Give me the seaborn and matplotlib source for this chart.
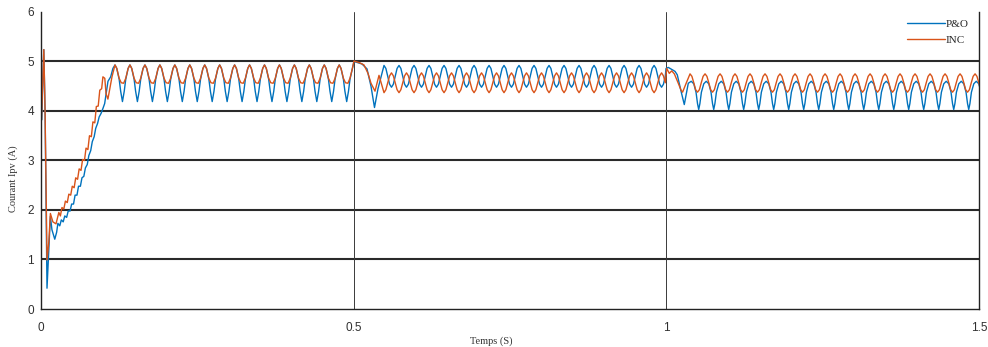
import numpy as np
import pandas as pd
import matplotlib
matplotlib.use("Agg")
import matplotlib.pyplot as plt
import seaborn as sns

# ---------------- data ----------------
# start-up transient keypoints (time in s, current in A)
po_start_t = [0.0000, 0.0005, 0.0012, 0.0045, 0.0065, 0.0096, 0.0125, 0.0150, 0.0175,
              0.0220, 0.0250, 0.0270, 0.0300, 0.0325, 0.0355, 0.0380, 0.0410, 0.0435,
              0.0465, 0.0490, 0.0520, 0.0545, 0.0575, 0.0600, 0.0630, 0.0655, 0.0685,
              0.0710, 0.0740, 0.0765, 0.0795, 0.0820, 0.0850, 0.0875, 0.0905, 0.0930,
              0.0960, 0.0990, 0.1018, 0.1071, 0.1114, 0.1150]
po_start_v = [1.90, 5.30, 3.82, 5.24, 4.00, 0.42, 1.20, 1.87, 1.60,
              1.41, 1.55, 1.73, 1.68, 1.80, 1.76, 1.88, 1.85, 1.98,
              1.98, 2.12, 2.12, 2.30, 2.30, 2.48, 2.48, 2.65, 2.68,
              2.85, 2.92, 3.10, 3.20, 3.38, 3.48, 3.65, 3.75, 3.88,
              3.95, 4.05, 4.15, 4.60, 4.69, 4.86]

inc_start_t = [0.0000, 0.0008, 0.0045, 0.0065, 0.0096, 0.0125, 0.0150, 0.0190, 0.0240,
               0.0285, 0.0310, 0.0335, 0.0365, 0.0390, 0.0420, 0.0445, 0.0475, 0.0500,
               0.0530, 0.0555, 0.0585, 0.0610, 0.0640, 0.0665, 0.0695, 0.0720, 0.0750,
               0.0775, 0.0805, 0.0830, 0.0860, 0.0885, 0.0915, 0.0940, 0.0970, 0.0990,
               0.1020, 0.1040, 0.1070, 0.1100, 0.1135]
inc_start_v = [5.30, 3.82, 5.24, 4.00, 0.99, 1.35, 1.93, 1.76, 1.72,
               1.95, 1.88, 2.05, 2.02, 2.18, 2.15, 2.32, 2.30, 2.48,
               2.45, 2.65, 2.62, 2.83, 2.80, 3.02, 3.00, 3.25, 3.22,
               3.50, 3.48, 3.78, 3.76, 4.09, 4.10, 4.42, 4.45, 4.69,
               4.66, 4.35, 4.24, 4.45, 4.69]

# reference times of each oscillation cycle (s)
seg1_cycles = [0.1183, 0.1422, 0.1662, 0.1901, 0.2140, 0.2379, 0.2618, 0.2857,
               0.3096, 0.3335, 0.3574, 0.3813, 0.4052, 0.4291, 0.4530, 0.4769]
seg2_cycles = [0.5485, 0.5725, 0.5965, 0.6205, 0.6445, 0.6685, 0.6925, 0.7165,
               0.7404, 0.7644, 0.7884, 0.8124, 0.8364, 0.8604, 0.8844, 0.9084,
               0.9324, 0.9564, 0.9804]
seg3_cycles = [1.0379, 1.0619, 1.0859, 1.1098, 1.1338, 1.1578, 1.1818, 1.2058,
               1.2298, 1.2538, 1.2778, 1.3018, 1.3258, 1.3498, 1.3737, 1.3977,
               1.4217, 1.4457, 1.4697, 1.4937]
period = 0.0239

# one-cycle shapes (fraction of period, current A)
seg1_po_phase = [0.00, 0.12, 0.28, 0.38, 0.50, 0.62, 0.72, 0.88]
seg1_po_val = [4.93, 4.86, 4.64, 4.40, 4.19, 4.40, 4.64, 4.86]
seg1_inc_phase = [0.00, 0.12, 0.28, 0.42, 0.58, 0.72, 0.88]
seg1_inc_val = [4.93, 4.86, 4.66, 4.57, 4.56, 4.66, 4.86]

seg2_po_phase = [0.000, 0.125, 0.250, 0.375, 0.500, 0.625, 0.750, 0.875]
seg2_po_val = [4.92, 4.86, 4.70, 4.54, 4.48, 4.54, 4.70, 4.86]
seg2_inc_phase = [0.000, 0.125, 0.250, 0.375, 0.500, 0.625, 0.750, 0.875]
seg2_inc_val = [4.37, 4.43, 4.57, 4.71, 4.77, 4.71, 4.57, 4.43]

seg3_po_phase = [0.08, 0.25, 0.40, 0.50, 0.58, 0.66, 0.76, 0.92]
seg3_po_val = [4.60, 4.55, 4.38, 4.15, 4.03, 4.15, 4.38, 4.55]
seg3_inc_phase = [0.000, 0.125, 0.250, 0.375, 0.500, 0.625, 0.750, 0.875]
seg3_inc_val = [4.75, 4.70, 4.57, 4.43, 4.38, 4.43, 4.57, 4.70]

# transitions at the irradiance steps (t = 0.5 s and t = 1.0 s)
po_step1_t = [0.5005, 0.5133, 0.5213, 0.5277, 0.5333, 0.5389]
po_step1_v = [5.00, 4.95, 4.85, 4.50, 4.07, 4.45]
inc_step1_t = [0.5005, 0.5101, 0.5165, 0.5229, 0.5277, 0.5341, 0.5405]
inc_step1_v = [5.01, 4.97, 4.93, 4.76, 4.56, 4.40, 4.72]
po_step2_t = [0.9995, 1.0032, 1.0086, 1.0139, 1.0175, 1.0235, 1.0287, 1.0351]
po_step2_v = [4.86, 4.88, 4.84, 4.80, 4.73, 4.40, 4.13, 4.56]
inc_step2_t = [1.0006, 1.0047, 1.0086, 1.0128, 1.0191, 1.0235, 1.0260, 1.0320]
inc_step2_v = [4.86, 4.76, 4.81, 4.75, 4.56, 4.42, 4.38, 4.57]

series_names = ["P&O", "INC"]
colors = {"P&O": "#0072BD", "INC": "#D95319"}
x_ticks = [0, 0.5, 1, 1.5]
x_labels = ["0", "0.5", "1", "1.5"]
y_ticks = [0, 1, 2, 3, 4, 5, 6]


def cycles_to_points(cycles, phases, values, lo, hi):
    t = (np.asarray(cycles)[:, None] + np.asarray(phases)[None, :] * period).ravel()
    v = np.tile(values, len(cycles))
    m = (t >= lo) & (t < hi)
    return t[m], v[m]


def build(start_t, start_v, p1, v1, st1_t, st1_v, p2, v2, st2_t, st2_v, p3, v3):
    parts_t, parts_v = [np.asarray(start_t)], [np.asarray(start_v)]
    t, v = cycles_to_points(seg1_cycles, p1, v1, 0.118, 0.4999)
    parts_t.append(t); parts_v.append(v)
    parts_t.append(np.asarray(st1_t)); parts_v.append(np.asarray(st1_v))
    t, v = cycles_to_points(seg2_cycles, p2, v2, 0.548, 0.9994)
    parts_t.append(t); parts_v.append(v)
    parts_t.append(np.asarray(st2_t)); parts_v.append(np.asarray(st2_v))
    t, v = cycles_to_points(seg3_cycles, p3, v3, 1.036, 1.52)
    parts_t.append(t); parts_v.append(v)
    return np.concatenate(parts_t), np.concatenate(parts_v)


po_t, po_v = build(po_start_t, po_start_v, seg1_po_phase, seg1_po_val,
                   po_step1_t, po_step1_v, seg2_po_phase, seg2_po_val,
                   po_step2_t, po_step2_v, seg3_po_phase, seg3_po_val)
inc_t, inc_v = build(inc_start_t, inc_start_v, seg1_inc_phase, seg1_inc_val,
                     inc_step1_t, inc_step1_v, seg2_inc_phase, seg2_inc_val,
                     inc_step2_t, inc_step2_v, seg3_inc_phase, seg3_inc_val)

df = pd.concat([
    pd.DataFrame({"t": po_t, "i": po_v, "s": "P&O"}),
    pd.DataFrame({"t": inc_t, "i": inc_v, "s": "INC"}),
], ignore_index=True)

# ---------------- drawing ----------------
sns.set_theme(style="white")
plt.rcParams["font.family"] = ["Liberation Sans", "DejaVu Sans"]

fig = plt.figure(figsize=(9.88, 3.47), dpi=100)
ax = fig.add_axes([0.0415, 0.1095, 0.9494, 0.856])

for y in [1, 2, 3, 4, 5]:
    ax.axhline(y, color="#2a2a2a", lw=1.5, zorder=0)
for x in [0.5, 1.0]:
    ax.axvline(x, color="#3a3a3a", lw=0.7, zorder=0)

sns.lineplot(data=df, x="t", y="i", hue="s", hue_order=series_names,
             palette=colors, estimator=None, sort=False, lw=1.0, ax=ax,
             legend=True)

ax.set_xlim(0, 1.5)
ax.set_ylim(0, 6)
ax.set_xticks(x_ticks)
ax.set_xticklabels(x_labels)
ax.set_yticks(y_ticks)
ax.tick_params(axis="both", length=0, labelsize=8.5, colors="#303030")
ax.tick_params(axis="x", pad=9)
ax.tick_params(axis="y", pad=5)

for side in ["left", "bottom", "right"]:
    ax.spines[side].set_visible(True)
    ax.spines[side].set_color("#222222")
    ax.spines[side].set_linewidth(1.0)
ax.spines["top"].set_visible(False)

ax.set_xlabel("Temps (S)", family="Liberation Serif", fontsize=7.5, color="#333333")
ax.set_ylabel("Courant Ipv (A)", family="Liberation Serif", fontsize=7.5, color="#333333")
ax.xaxis.set_label_coords(0.48, -0.092)
ax.yaxis.set_label_coords(-0.024, 0.44)

leg = ax.legend(loc="upper right", bbox_to_anchor=(0.994, 0.99), frameon=False,
                prop={"family": "Liberation Serif", "size": 8},
                handlelength=3.4, handletextpad=0.1, labelspacing=0.55,
                borderaxespad=0)
for line in leg.get_lines():
    line.set_linewidth(1.0)

fig.savefig("out.png", dpi=100)
